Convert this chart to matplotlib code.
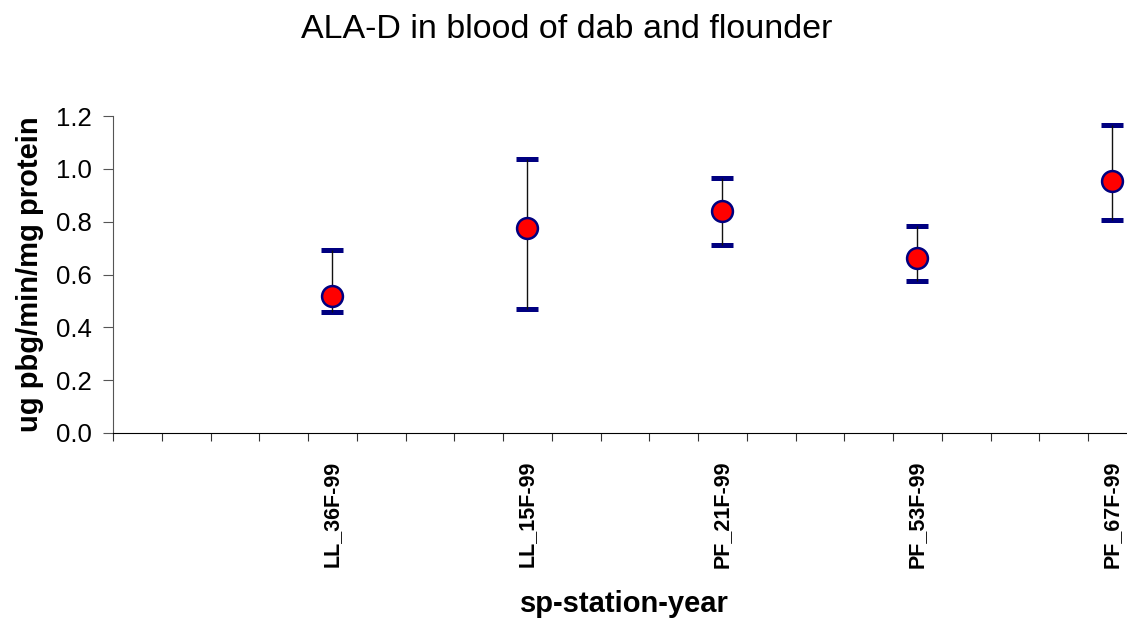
import numpy as np
import matplotlib
matplotlib.use("Agg")
import matplotlib.pyplot as plt

plt.rcParams['font.family'] = ['Liberation Sans', 'DejaVu Sans']

nan = np.nan
categories = ["", "", "", "", "LL_36F-99", "", "", "", "LL_15F-99", "", "", "",
              "PF_21F-99", "", "", "", "PF_53F-99", "", "", "", "PF_67F-99"]
means = [nan, nan, nan, nan, 0.520, nan, nan, nan, 0.775, nan, nan, nan,
         0.842, nan, nan, nan, 0.664, nan, nan, nan, 0.953]
upper = [nan, nan, nan, nan, 0.694, nan, nan, nan, 1.039, nan, nan, nan,
         0.964, nan, nan, nan, 0.783, nan, nan, nan, 1.165]
lower = [nan, nan, nan, nan, 0.458, nan, nan, nan, 0.468, nan, nan, nan,
         0.713, nan, nan, nan, 0.577, nan, nan, nan, 0.808]

title = "ALA-D in blood of dab and flounder"
xlabel = "sp-station-year"
ylabel = "ug pbg/min/mg protein"
yticks = [0.0, 0.2, 0.4, 0.6, 0.8, 1.0, 1.2]

fig = plt.figure(figsize=(11.27, 6.22), dpi=100)
n = len(categories)
ax = fig.add_axes([113/1127, 1 - 433/622, n*48.75/1127, (433-116)/622])

x = np.arange(n) + 0.5
m = np.array(means)
err = np.vstack([m - np.array(lower), np.array(upper) - m])
line, caps, bars = ax.errorbar(x, m, yerr=err, fmt='o', ecolor='#111111', elinewidth=1.0,
                               capsize=7.8, capthick=3.6, markersize=15.0,
                               markerfacecolor='#ff0000', markeredgecolor='#000080',
                               markeredgewidth=1.8, zorder=3)
for c in caps:
    c.set_color('#000080')
    c.set_markeredgecolor('#000080')
    c.set_markerfacecolor('#000080')
    c.set_markeredgewidth(3.6)
    c.set_zorder(2)

ax.set_xlim(0, n)
ax.set_ylim(0, 1.2)
ax.set_yticks(yticks)
ax.set_yticklabels([f"{v:.1f}" for v in yticks], fontsize=18.5)
ax.set_xticks(np.arange(n + 1))
ax.set_xticklabels([])
ax.set_xticks(x, minor=True)
ax.set_xticklabels(categories, minor=True, rotation=90, fontsize=15.5, fontweight='bold')
ax.tick_params(axis='x', which='minor', length=0, pad=20)
ax.tick_params(axis='x', which='major', length=6, direction='out', color='#333333')
ax.tick_params(axis='y', length=7, direction='out', color='#555555', pad=8.5)

for s in ['top', 'right']:
    ax.spines[s].set_visible(False)
ax.spines['left'].set_color('#555555')
ax.spines['bottom'].set_color('black')

ax.set_ylabel(ylabel, fontsize=21, fontweight='bold', labelpad=8)
ax.set_xlabel(xlabel, fontsize=21, fontweight='bold')
ax.xaxis.set_label_coords(0.5, (433 - 612) / 317)
ax.xaxis.label.set_va('baseline')
fig.suptitle(title, fontsize=24.5, x=567/1127, y=1 - 30/622, va='center')

fig.savefig("out.png", dpi=100)
